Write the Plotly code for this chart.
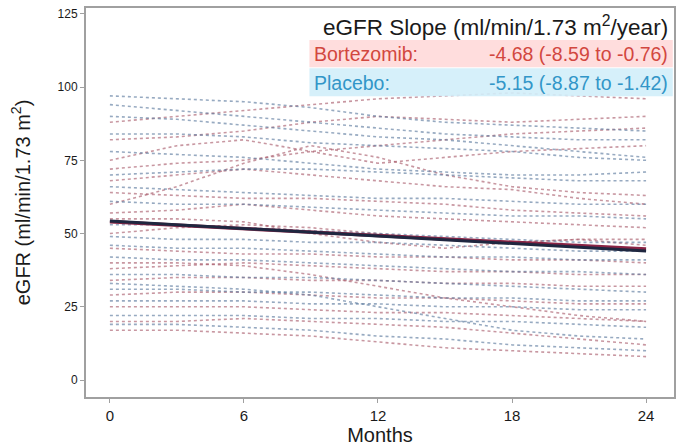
import plotly.graph_objects as go

months = [0, 3, 6, 9, 12, 15, 18, 21, 24]

bortezomib = [
    [88, 90, 92, 94, 96, 97, 98, 97, 96],
    [82, 83, 85, 88, 90, 89, 88, 89, 90],
    [75, 80, 82, 78, 74, 76, 78, 79, 80],
    [60, 66, 74, 80, 76, 70, 66, 64, 63],
    [68, 70, 72, 70, 68, 66, 65, 62, 60],
    [64, 63, 62, 62, 61, 60, 58, 57, 56],
    [57, 58, 60, 58, 56, 55, 54, 53, 52],
    [50, 52, 53, 52, 50, 48, 47, 48, 46],
    [45, 44, 43, 43, 42, 42, 41, 41, 40],
    [38, 39, 40, 39, 38, 37, 37, 36, 36],
    [34, 35, 35, 34, 34, 33, 33, 32, 32],
    [29, 30, 30, 29, 28, 28, 27, 26, 26],
    [25, 25, 25, 24, 23, 23, 22, 21, 20],
    [20, 20, 21, 20, 19, 18, 16, 14, 12],
    [40, 40, 39, 36, 32, 28, 25, 22, 20],
    [55, 55, 54, 50, 47, 45, 47, 48, 48],
    [72, 74, 75, 78, 80, 82, 84, 85, 86],
    [17, 17, 16, 15, 13, 11, 10, 9, 8],
]

placebo = [
    [97, 96, 95, 93, 90, 88, 87, 86, 85],
    [94, 92, 90, 88, 86, 84, 83, 82, 82],
    [90, 89, 87, 85, 83, 82, 80, 78, 76],
    [84, 84, 83, 81, 80, 79, 78, 76, 75],
    [70, 71, 72, 72, 71, 70, 69, 68, 68],
    [66, 65, 64, 63, 62, 62, 61, 60, 60],
    [61, 60, 60, 59, 58, 57, 56, 56, 55],
    [49, 48, 48, 47, 47, 46, 45, 44, 44],
    [46, 45, 45, 44, 43, 42, 42, 41, 41],
    [42, 41, 41, 40, 39, 38, 37, 37, 36],
    [36, 36, 35, 35, 34, 33, 32, 31, 30],
    [31, 31, 30, 30, 29, 28, 28, 27, 27],
    [27, 27, 27, 26, 26, 25, 25, 24, 24],
    [22, 22, 22, 21, 21, 20, 20, 19, 18],
    [33, 32, 31, 29, 25, 21, 17, 15, 14],
    [53, 53, 52, 51, 50, 49, 48, 47, 47],
    [78, 77, 76, 74, 72, 71, 70, 70, 71],
    [19, 19, 18, 17, 15, 14, 12, 11, 10],
]

fit_months = [0, 24]
fit_bortezomib = [54.0, 44.7]
fit_placebo = [54.3, 44.0]

slope_title = "eGFR Slope (ml/min/1.73 m<sup>2</sup>/year)"
label_b = "Bortezomib:"
value_b = "-4.68 (-8.59 to -0.76)"
label_p = "Placebo:"
value_p = "-5.15 (-8.87 to -1.42)"

x_ticks = [0, 6, 12, 18, 24]
y_ticks = [0, 25, 50, 75, 100, 125]

FONT = "Arial, Liberation Sans, sans-serif"

fig = go.Figure()
for series in bortezomib:
    fig.add_trace(go.Scatter(x=months, y=series, mode="lines",
                             line=dict(color="rgba(170,95,110,0.65)", width=1.6, dash="dot"),
                             showlegend=False, hoverinfo="skip"))
for series in placebo:
    fig.add_trace(go.Scatter(x=months, y=series, mode="lines",
                             line=dict(color="rgba(95,125,160,0.65)", width=1.6, dash="dot"),
                             showlegend=False, hoverinfo="skip"))

fig.add_trace(go.Scatter(x=fit_months, y=fit_bortezomib, mode="lines",
                         line=dict(color="#8a2445", width=3.5), showlegend=False))
fig.add_trace(go.Scatter(x=fit_months, y=fit_placebo, mode="lines",
                         line=dict(color="#1f2740", width=3), showlegend=False))

# background boxes for the slope rows
fig.add_shape(type="rect", xref="paper", yref="paper", x0=0.380, x1=0.998, y0=0.848, y1=0.918,
              fillcolor="rgba(255,215,215,0.85)", line=dict(width=0), layer="above")
fig.add_shape(type="rect", xref="paper", yref="paper", x0=0.380, x1=0.998, y0=0.773, y1=0.845,
              fillcolor="rgba(210,238,250,0.9)", line=dict(width=0), layer="above")

fig.add_annotation(xref="paper", yref="paper", x=0.993, y=0.954, text=slope_title,
                   showarrow=False, xanchor="right", yanchor="middle",
                   font=dict(family=FONT, size=22.5, color="#1a1a1a"))
fig.add_annotation(xref="paper", yref="paper", x=0.385, y=0.882, text=label_b,
                   showarrow=False, xanchor="left", yanchor="middle",
                   font=dict(family=FONT, size=19.5, color="#d2473f"))
fig.add_annotation(xref="paper", yref="paper", x=0.993, y=0.882, text=value_b,
                   showarrow=False, xanchor="right", yanchor="middle",
                   font=dict(family=FONT, size=19.5, color="#d2473f"))
fig.add_annotation(xref="paper", yref="paper", x=0.385, y=0.807, text=label_p,
                   showarrow=False, xanchor="left", yanchor="middle",
                   font=dict(family=FONT, size=19.5, color="#3296c8"))
fig.add_annotation(xref="paper", yref="paper", x=0.993, y=0.807, text=value_p,
                   showarrow=False, xanchor="right", yanchor="middle",
                   font=dict(family=FONT, size=19.5, color="#3296c8"))

fig.update_layout(
    width=681, height=448,
    margin=dict(l=86, r=5, t=8, b=51),
    paper_bgcolor="white", plot_bgcolor="white",
    font=dict(family=FONT, color="#222222"),
    xaxis=dict(range=[-1.07, 25.25], tickvals=x_ticks, showgrid=False, zeroline=False,
               showline=True, linecolor="#a0a0a0", linewidth=2, mirror=True,
               ticks="outside", ticklen=4, tickcolor="#a0a0a0",
               tickfont=dict(size=15, color="#1a1a1a"),
               title=dict(text="Months", font=dict(size=20, color="#1a1a1a"), standoff=5)),
    yaxis=dict(range=[-5.8, 127], tickvals=y_ticks, showgrid=False, zeroline=False,
               showline=True, linecolor="#a0a0a0", linewidth=2, mirror=True,
               ticks="outside", ticklen=4, tickcolor="#a0a0a0",
               tickfont=dict(size=12, color="#1a1a1a"),
               title=dict(text="eGFR (ml/min/1.73 m<sup>2</sup>)", font=dict(size=20, color="#1a1a1a"), standoff=22)),
)

fig.write_html("out.html")
